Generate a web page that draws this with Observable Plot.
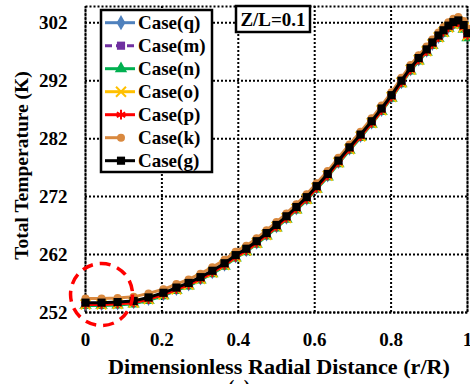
<!DOCTYPE html>
<html><head><meta charset="utf-8">
<script src="https://cdn.jsdelivr.net/npm/d3@7"></script>
<script src="https://cdn.jsdelivr.net/npm/@observablehq/plot@0.6"></script>
<style>body{margin:0;background:#fff;} #chart{width:470px;height:384px;overflow:hidden}</style>
</head><body><div id="chart"></div>
<script>
// Dimensionless radial distance (r/R) of the markers
const xs = [0,0.042,0.084,0.126,0.165,0.204,0.238,0.270,0.301,0.332,0.364,0.393,0.421,0.448,0.474,0.500,0.526,0.552,0.579,0.605,0.634,0.662,0.691,0.720,0.749,0.775,0.801,0.827,0.851,0.872,0.893,0.908,0.924,0.937,0.950,0.963,0.976,0.990,1.0];
// Total temperature (K)
const tG = [253.7,253.7,253.8,254.0,254.6,255.4,256.3,257.1,258.1,259.2,260.5,261.9,263.0,264.3,265.7,267.1,268.6,270.2,271.9,273.8,275.9,278.2,280.5,282.7,285.0,287.2,289.5,292.0,294.2,295.9,297.4,298.6,299.8,300.7,301.5,302.1,302.4,301.6,300.2];
const tK = [254.4,254.4,254.5,254.7,255.3,256.0,256.9,257.7,258.7,259.8,261.1,262.5,263.5,264.8,266.2,267.6,269.1,270.7,272.4,274.3,276.4,278.7,281.0,283.2,285.5,287.7,290.0,292.5,294.7,296.4,297.9,299.1,300.3,301.2,302.1,302.7,303.0,302.3,301.0];
const tN = [253.2,253.2,253.3,253.5,254.1,254.9,255.8,256.6,257.6,258.7,260.0,261.4,262.5,263.8,265.2,266.6,268.1,269.7,271.4,273.3,275.4,277.7,280.0,282.2,284.5,286.7,289.0,291.5,293.7,295.4,296.9,298.1,299.3,300.2,301.0,301.6,301.8,300.9,299.4];
const tP = [253.4,253.4,253.5,253.7,254.3,255.1,256.0,256.8,257.8,258.9,260.2,261.6,262.7,264.0,265.4,266.8,268.3,269.9,271.6,273.5,275.6,277.9,280.2,282.4,284.7,286.9,289.2,291.7,293.9,295.6,297.1,298.3,299.5,300.4,301.2,301.8,302.1,301.2,299.8];
const tQ = [253.55,253.55,253.65,253.85,254.45,255.25,256.15,256.95,257.95,259.05,260.35,261.75,262.85,264.15,265.55,266.95,268.45,270.05,271.75,273.65,275.75,278.05,280.35,282.55,284.85,287.05,289.35,291.85,294.05,295.75,297.25,298.45,299.65,300.55,301.35,301.95,302.25,301.45,300.05];

const seriesNames = ["Case(q)","Case(m)","Case(n)","Case(o)","Case(p)","Case(k)","Case(g)"];
const seriesValues = [tQ, tQ, tN, tP, tP, tK, tG];
const seriesColors = ["#4f81bd","#7030a0","#00b050","#ffc000","#ff0000","#d9893f","#000000"];
const seriesSymbols = ["diamond","square","triangle","times","asterisk","circle","square"];
const seriesDash = [null,"7,4",null,null,null,null,null];

const xTicks = [0,0.2,0.4,0.6,0.8,1];
const yTicks = [252,262,272,282,292,302];
const annotationText = "Z/L=0.1";
const xLabel = "Dimensionless Radial Distance (r/R)";
const yLabel = "Total Temperature (K)";
const panelLabel = "(a)";
const highlight = [{x:0.042, y:255.1}];

const rows = seriesNames.map((name,i)=>xs.map((x,j)=>({name, x, y: seriesValues[i][j]})));

const FONT = "'Liberation Serif','Times New Roman',serif";
const seriesMarks = [];
seriesNames.forEach((name,i)=>{
  seriesMarks.push(Plot.line(rows[i], {x:"x", y:"y", stroke: seriesColors[i], strokeWidth: 3, strokeDasharray: seriesDash[i] || undefined}));
  const sym = seriesSymbols[i];
  const strokeOnly = sym === "times" || sym === "asterisk";
  seriesMarks.push(Plot.dot(rows[i], strokeOnly
    ? {x:"x", y:"y", symbol: sym, r: 4.5, stroke: seriesColors[i], strokeWidth: 2, fill: "none"}
    : {x:"x", y:"y", symbol: sym, r: sym === "circle" ? 4 : 4.6, fill: seriesColors[i], stroke: "none"}));
});

const dotted = {stroke:"#000", strokeOpacity:1, strokeWidth:2, strokeDasharray:"2,2"};
const plot = Plot.plot({
  width:470, height:384,
  marginLeft:85, marginRight:3, marginTop:6, marginBottom:72,
  style:{fontFamily:FONT, fontWeight:"bold", fontSize:"19px", color:"#000", background:"#fff"},
  x:{domain:[0,1], label:null},
  y:{domain:[252,304.8], label:null},
  marks:[
    Plot.gridX(xTicks, dotted),
    Plot.gridY(yTicks, dotted),
    Plot.frame(dotted),
    Plot.axisX(xTicks, {tickSize:0, tickPadding:20, tickFormat: d => String(d), label:null, fontSize:19}),
    Plot.axisY(yTicks, {tickSize:0, tickPadding:18, tickFormat: d => String(d), label:null, fontSize:19}),
    ...seriesMarks,
    Plot.dot(highlight, {x:"x", y:"y", r:31, fill:"none", stroke:"#ff0000", strokeWidth:3.5, strokeDasharray:"11,7"})
  ]
});

const svg = d3.select(plot);
function txt(sel){ return sel.attr("font-family",FONT).attr("font-weight","bold").attr("fill","#000"); }
// axis titles
txt(svg.append("text")).attr("x",279).attr("y",374).attr("text-anchor","middle").attr("font-size",20)
  .attr("textLength",342).attr("lengthAdjust","spacingAndGlyphs").text(xLabel);
txt(svg.append("text")).attr("transform","translate(27.5,165.5) rotate(-90)").attr("text-anchor","middle")
  .attr("font-size",19.5).text(yLabel);
txt(svg.append("text")).attr("x",239).attr("y",393).attr("text-anchor","middle").attr("font-size",19).text(panelLabel);

// Z/L box
const zl = svg.append("g");
zl.append("rect").attr("x",236).attr("y",6).attr("width",74).attr("height",26).attr("fill","#fff").attr("stroke","#000").attr("stroke-width",2.5);
txt(zl.append("text")).attr("x",273).attr("y",26).attr("text-anchor","middle").attr("font-size",19).text(annotationText);

// legend
const lg = svg.append("g");
lg.append("rect").attr("x",101).attr("y",10).attr("width",111).attr("height",162).attr("fill","#fff").attr("stroke","#000").attr("stroke-width",2.5);
const d3sym = {diamond:d3.symbolDiamond, square:d3.symbolSquare, triangle:d3.symbolTriangle, times:d3.symbolTimes, asterisk:d3.symbolAsterisk, circle:d3.symbolCircle};
seriesNames.forEach((name,i)=>{
  const cy = 22.7 + i*23;
  const isK = seriesSymbols[i] === "circle";
  lg.append("line").attr("x1",105).attr("x2", isK ? 121 : 135).attr("y1",cy).attr("y2",cy)
    .attr("stroke",seriesColors[i]).attr("stroke-width",3).attr("stroke-dasharray", seriesDash[i] || null);
  const sym = seriesSymbols[i];
  const strokeOnly = sym === "times" || sym === "asterisk";
  const r = sym === "circle" ? 4 : 4.6;
  lg.append("path").attr("transform",`translate(121,${cy})`)
    .attr("d", d3.symbol(d3sym[sym], Math.PI*r*r)())
    .attr("fill", strokeOnly ? "none" : seriesColors[i])
    .attr("stroke", strokeOnly ? seriesColors[i] : "none").attr("stroke-width",2);
  txt(lg.append("text")).attr("x",138).attr("y",cy+6.5).attr("text-anchor","start").attr("font-size",19).text(name);
});

document.getElementById("chart").appendChild(plot);
</script>
</body></html>
